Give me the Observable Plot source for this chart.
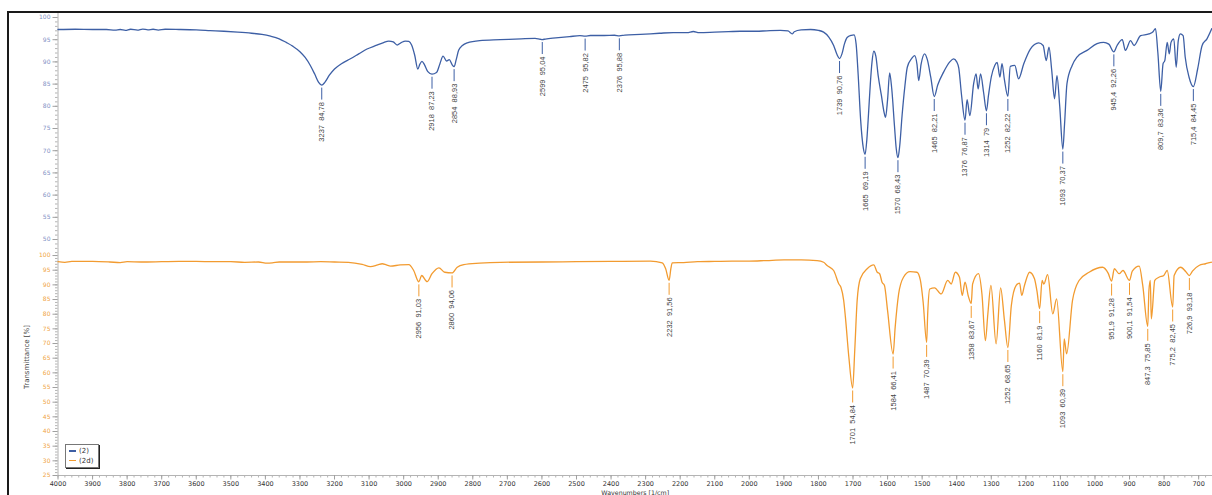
<!DOCTYPE html>
<html><head><meta charset="utf-8">
<script src="https://cdn.jsdelivr.net/npm/d3@7"></script>
<script src="https://cdn.jsdelivr.net/npm/@observablehq/plot@0.6"></script>
<style>
html,body{margin:0;padding:0;background:#fff;overflow:hidden;width:1212px;height:495px}
#wrap{position:relative;width:1212px;height:495px;overflow:hidden}
#top{position:absolute;left:0;top:0}
#bot{position:absolute;left:0;top:248px}
#frame{position:absolute;left:7px;top:11px;width:1300px;height:600px;border-left:2px solid #1a1a1a;border-top:2px solid #1a1a1a;pointer-events:none}
#ytitle{position:absolute;left:27px;top:357px;transform:translate(-50%,-50%) rotate(-90deg);font:7px "DejaVu Sans",sans-serif;color:#444;white-space:nowrap}
#legend{position:absolute;left:65px;top:444px;width:34px;height:24px;border:1px solid #777;box-shadow:1px 1px 0 #222;background:#fff;font:7px "DejaVu Sans",sans-serif;color:#333;box-sizing:border-box;padding:2px 0 0 3px}
#legend .row{height:9.5px;line-height:9.5px;white-space:nowrap}
#legend .sw{display:inline-block;width:7px;height:1.4px;vertical-align:middle;margin-right:3px}
</style></head>
<body><div id="wrap"><div id="top"></div><div id="bot"></div><div id="ytitle"></div><div id="legend"></div><div id="frame"></div></div>
<script>
// ---------- data ----------
const seriesNames = ["(2)", "(2d)"];
const seriesColors = ["#3d5fa5", "#f29b30"];
const yAxisTitle = "Transmittance [%]";
const xAxisTitle = "Wavenumbers [1/cm]";
const xTicks = [4000,3900,3800,3700,3600,3500,3400,3300,3200,3100,3000,2900,2800,2700,2600,2500,2400,2300,2200,2100,2000,1900,1800,1700,1600,1500,1400,1300,1200,1100,1000,900,800,700];
const yTicksTop = [50,55,60,65,70,75,80,85,90,95,100];
const yTicksBot = [25,30,35,40,45,50,55,60,65,70,75,80,85,90,95,100];

// spectrum (2): [wavenumber, transmittance]
const spec2 = [
[4000,97.3],[3950,97.35],[3900,97.3],[3860,97.3],[3835,97.15],[3820,97.3],[3805,97.1],[3790,97.35],[3770,97.15],[3755,97.4],[3740,97.2],[3725,97.35],[3710,97.15],[3690,97.35],[3650,97.3],[3600,97.2],[3560,97.05],[3520,96.9],[3480,96.7],[3440,96.45],[3410,96.2],[3385,95.8],[3360,95.2],[3340,94.4],[3320,93.5],[3300,92.3],[3285,91.0],[3270,89.2],[3257,87.2],[3246,85.4],[3237,84.78],[3228,85.4],[3215,87.0],[3200,88.4],[3180,89.6],[3154,90.7],[3130,91.8],[3106,92.9],[3080,93.7],[3060,94.3],[3043,94.7],[3030,94.5],[3019,93.8],[3008,94.3],[2995,94.7],[2985,94.6],[2977,93.8],[2968,91.5],[2959,88.4],[2953,89.5],[2947,90.1],[2940,89.4],[2930,87.8],[2918,87.23],[2905,87.6],[2895,89.6],[2886,91.3],[2876,90.2],[2868,90.5],[2860,89.4],[2854,88.93],[2848,90.5],[2841,92.6],[2830,93.7],[2816,94.3],[2780,94.8],[2720,95.0],[2660,95.2],[2620,95.3],[2605,95.1],[2599,95.04],[2590,95.15],[2560,95.4],[2520,95.7],[2490,95.9],[2475,95.82],[2460,95.95],[2420,95.95],[2390,96.0],[2376,95.88],[2360,96.05],[2315,96.2],[2260,96.45],[2220,96.6],[2180,96.6],[2162,96.85],[2145,96.6],[2100,96.7],[2060,96.8],[2026,96.9],[1980,96.9],[1950,97.0],[1910,97.1],[1888,97.0],[1880,96.5],[1876,96.3],[1870,96.8],[1850,97.2],[1823,97.3],[1800,97.1],[1785,96.7],[1770,95.6],[1756,93.7],[1746,91.6],[1739,90.76],[1732,91.8],[1725,94.0],[1717,95.5],[1705,96.0],[1697,96.1],[1691,94.0],[1685,87.0],[1678,77.0],[1670,70.5],[1665,69.19],[1660,72.5],[1655,78.5],[1650,85.0],[1645,90.0],[1640,92.4],[1634,91.3],[1627,86.8],[1618,82.5],[1610,78.6],[1606,77.5],[1600,81.5],[1594,87.5],[1588,84.0],[1580,75.5],[1575,70.5],[1570,68.43],[1565,71.0],[1558,78.0],[1550,84.5],[1543,88.8],[1530,90.8],[1522,91.4],[1515,89.5],[1510,85.8],[1503,89.5],[1493,91.8],[1485,90.5],[1475,86.5],[1465,82.21],[1455,84.8],[1438,87.7],[1420,90.0],[1409,90.7],[1400,90.0],[1394,88.6],[1386,82.5],[1376,76.87],[1370,81.5],[1362,77.9],[1351,85.1],[1344,87.3],[1338,83.9],[1331,87.3],[1322,83.0],[1314,79],[1308,82.5],[1300,86.6],[1290,89.2],[1283,89.9],[1275,86.6],[1269,89.6],[1262,86.0],[1252,82.22],[1245,89.0],[1232,89.2],[1221,86.2],[1206,89.6],[1187,92.9],[1175,93.9],[1163,94.3],[1150,93.7],[1141,90.3],[1133,93.3],[1125,88.0],[1117,81.7],[1110,86.9],[1102,80.0],[1093,70.37],[1088,76.0],[1081,85.1],[1066,89.2],[1052,91.1],[1023,92.6],[994,94.1],[975,94.4],[960,94.0],[945.4,92.26],[936,93.7],[921,95.0],[912,92.6],[897,94.8],[887,93.7],[868,95.9],[844,96.3],[832,96.8],[825,97.5],[818,92.0],[809.7,83.36],[803,89.6],[798,90.3],[791,94.4],[785,91.8],[780,94.4],[772,95.2],[765,88.8],[759,94.8],[753,96.3],[745,95.9],[739,91.1],[728,86.6],[715.4,84.45],[703,88.4],[690,93.7],[676,95.2],[662,97.5]
];

// spectrum (2d)
const spec2d = [
[4000,97.9],[3980,97.7],[3960,98.0],[3900,98.0],[3850,97.8],[3820,97.6],[3800,97.9],[3760,97.8],[3700,97.9],[3650,98.0],[3600,98.0],[3550,97.9],[3500,97.9],[3460,97.7],[3420,97.8],[3395,97.4],[3380,97.5],[3360,97.8],[3320,97.8],[3280,97.8],[3240,97.9],[3200,97.8],[3160,97.7],[3120,97.0],[3096,96.2],[3075,96.8],[3062,97.2],[3050,96.8],[3038,96.4],[3010,96.8],[2985,96.9],[2971,94.9],[2956,91.03],[2948,93.2],[2932,91.1],[2918,93.8],[2898,95.8],[2881,94.3],[2860,94.06],[2845,96.0],[2826,96.9],[2780,97.4],[2720,97.7],[2600,97.8],[2500,97.9],[2400,98.0],[2286,98.1],[2252,97.5],[2242,95.5],[2232,91.56],[2227,95.5],[2223,97.5],[2190,97.6],[2150,97.9],[2100,98.0],[2050,98.1],[2000,98.1],[1950,98.3],[1900,98.5],[1850,98.5],[1804,98.3],[1785,97.7],[1775,96.6],[1756,94.9],[1741,90.3],[1735,89.2],[1727,84.7],[1722,79],[1712,65.3],[1701,54.84],[1695,67.6],[1688,84.7],[1679,92.1],[1659,95.5],[1640,96.8],[1630,94.3],[1623,93.8],[1616,90.9],[1609,89.8],[1600,81.2],[1584,66.41],[1578,75.6],[1568,86.9],[1554,92.6],[1535,94.5],[1515,94.3],[1505,91.5],[1497,84],[1487,70.39],[1484,80],[1478,88.6],[1464,89.0],[1445,86.9],[1426,91.5],[1416,90.3],[1404,94.3],[1392,92.6],[1384,86.4],[1376,90.9],[1366,86],[1358,83.67],[1354,90.3],[1337,93.8],[1327,86.9],[1317,71.0],[1310,80],[1301,89.8],[1286,69.9],[1273,89.0],[1262,78],[1252,68.65],[1242,82.9],[1228,89.8],[1218,90.6],[1212,86.4],[1204,89.8],[1189,94.3],[1175,92.1],[1168,88],[1160,81.9],[1153,91.5],[1148,90.3],[1137,93.5],[1122,80.1],[1111,85.2],[1093,60.39],[1089,71.6],[1082,66.5],[1065,84.7],[1046,91.5],[1017,94.3],[978,96.0],[962,94],[951.9,91.28],[944,95.5],[930,93.8],[919,94.9],[900.1,91.54],[892,94.7],[872,96.4],[862,90],[847.3,75.85],[844,88],[840,91.5],[837,78.4],[827,91.5],[815,92.6],[801,93.2],[791,94.9],[775.2,82.45],[771,93.2],[752,96],[737,94.5],[726.9,93.18],[718,94.7],[699,96.6],[680,97.2],[665,97.7],[660,97.8]
];

// peak labels
const peaksTopWn  = [3237,2918,2854,2599,2475,2376,1739,1665,1570,1465,1376,1314,1252,1093,945.4,809.7,715.4];
const peaksTopVal = [84.78,87.23,88.93,95.04,95.82,95.88,90.76,69.19,68.43,82.21,76.87,79,82.22,70.37,92.26,83.36,84.45];
const peaksBotWn  = [2956,2860,2232,1701,1584,1487,1358,1252,1160,1093,951.9,900.1,847.3,775.2,726.9];
const peaksBotVal = [91.03,94.06,91.56,54.84,66.41,70.39,83.67,68.65,81.9,60.39,91.28,91.54,75.85,82.45,93.18];

// ---------- layout ----------
const W = 1212, ML = 57.5, MR = 0;
const xDomain = [4000, 660];
const frameW = W - ML - MR;
const fmt = v => String(v).replace(".", ",");
const peaks = (wn, val) => wn.map((w, i) => ({wn: w, v: val[i], label: fmt(w) + "\u00a0 " + fmt(val[i])}));

function panel({height, marginTop, marginBottom, yDomain, yTicks, yMinor, tickColor, lineColor, data, pk, xAxis}) {
  const frameH = height - marginTop - marginBottom;
  const k = frameH / (yDomain[1] - yDomain[0]);
  const marks = [
    Plot.ruleX([xDomain[0]], {x: d => d, stroke: "#b4b4b4", strokeWidth: 1}),
    Plot.ruleY(yMinor, {y: d => d, stroke: "#b4b4b4", insetLeft: -2.5, insetRight: frameW}),
    Plot.ruleY(yTicks, {y: d => d, stroke: "#a0a0a0", insetLeft: -5, insetRight: frameW}),
    Plot.text(yTicks, {y: d => d, frameAnchor: "left", dx: -7.5, textAnchor: "end", text: d => String(d), fill: tickColor, fontSize: 6, fontFamily: "DejaVu Sans"}),
    Plot.line(data, {x: d => d[0], y: d => d[1], stroke: lineColor, strokeWidth: 1.3, curve: "monotone-x"}),
    Plot.ruleX(pk, {x: "wn", y1: "v", y2: d => d.v - 12 / k, dy: 3, stroke: lineColor, strokeWidth: 1}),
    Plot.text(pk, {x: "wn", y: "v", text: "label", rotate: -90, textAnchor: "end", dy: 17, fontSize: 7.5, fontFamily: "Liberation Sans", fill: "#444"})
  ];
  if (xAxis) {
    marks.push(
      Plot.ruleY([yDomain[0]], {y: d => d, stroke: "#b4b4b4"}),
      Plot.ruleX(d3.range(4000, 659, -20), {x: d => d, stroke: "#b4b4b4", insetTop: frameH, insetBottom: -2.5}),
      Plot.ruleX(xTicks, {x: d => d, stroke: "#a0a0a0", insetTop: frameH, insetBottom: -4.5}),
      Plot.text(xTicks, {x: d => d, frameAnchor: "bottom", dy: 10.5, text: d => String(d), fill: "#333", fontSize: 6.5, fontFamily: "DejaVu Sans"}),
      Plot.text([xAxisTitle], {frameAnchor: "bottom", dy: 15.5, lineAnchor: "top", text: d => d, fill: "#333", fontSize: 6.3, fontFamily: "DejaVu Sans"})
    );
  }
  return Plot.plot({
    width: W, height, marginLeft: ML, marginRight: MR, marginTop, marginBottom,
    x: {domain: xDomain, axis: null},
    y: {domain: yDomain, axis: null},
    style: {background: "transparent", overflow: "visible"},
    marks
  });
}

document.getElementById("top").appendChild(panel({
  height: 250, marginTop: 12.56, marginBottom: 2.1, yDomain: [48, 101],
  yTicks: yTicksTop, yMinor: d3.range(48, 101, 1), tickColor: "#8090c4", lineColor: seriesColors[0],
  data: spec2, pk: peaks(peaksTopWn, peaksTopVal), xAxis: false
}));
document.getElementById("bot").appendChild(panel({
  height: 262, marginTop: 0, marginBottom: 35, yDomain: [25, 102.4],
  yTicks: yTicksBot, yMinor: d3.range(25, 102, 1), tickColor: "#f0a444", lineColor: seriesColors[1],
  data: spec2d, pk: peaks(peaksBotWn, peaksBotVal), xAxis: true
}));

document.getElementById("ytitle").textContent = yAxisTitle;
const lg = document.getElementById("legend");
seriesNames.forEach((n, i) => {
  const r = document.createElement("div"); r.className = "row";
  const s = document.createElement("span"); s.className = "sw"; s.style.background = seriesColors[i];
  r.appendChild(s); r.appendChild(document.createTextNode(n)); lg.appendChild(r);
});
</script></body></html>
